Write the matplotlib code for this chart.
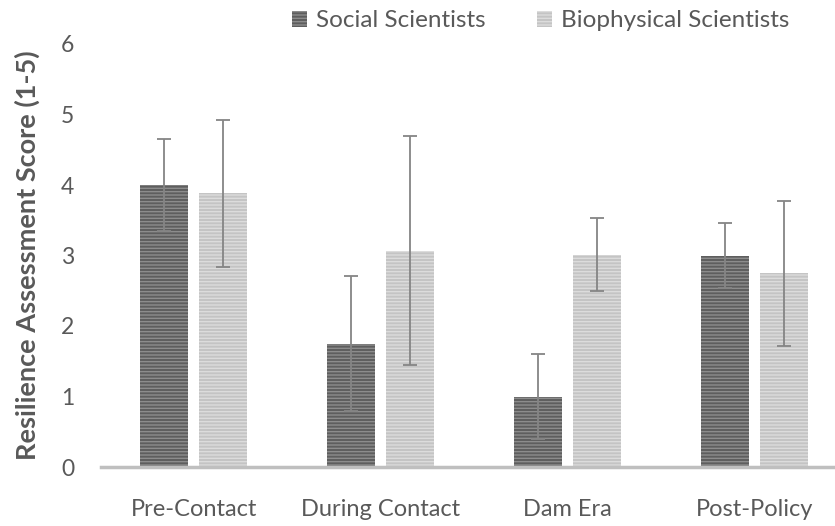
import numpy as np
import matplotlib.pyplot as plt

# data
categories = ["Pre-Contact", "During Contact", "Dam Era", "Post-Policy"]
social = [4.0, 1.75, 1.0, 3.0]
social_err = [0.65, 0.96, 0.60, 0.46]
bio = [3.88, 3.07, 3.01, 2.75]
bio_err = [1.04, 1.62, 0.52, 1.03]

plt.rcParams['font.family'] = ['Lato', 'DejaVu Sans']
plt.rcParams['hatch.linewidth'] = 1.0
text_color = '#595959'

fig = plt.figure(figsize=(8.35, 5.26), dpi=100)
ax = fig.add_axes([100.5 / 835, 59 / 526, 747.5 / 835, 423 / 526])

x = np.arange(len(categories))
off = 0.158
w = 0.257
err_kw = dict(ecolor='#858585', elinewidth=1.3, capsize=4.7, capthick=1.3)

b1 = ax.bar(x - off, social, w, yerr=social_err, color='#5e5e5e',
            edgecolor='#8c8c8c', hatch='-----', linewidth=0,
            error_kw=err_kw, label='Social Scientists')
b2 = ax.bar(x + off, bio, w, yerr=bio_err, color='#c4c4c4',
            edgecolor='#dcdcdc', hatch='-----', linewidth=0,
            error_kw=err_kw, label='Biophysical Scientists')

ax.set_xlim(-0.5, 3.5)
ax.set_ylim(0, 6)
ax.set_yticks(range(7))
ax.set_xticks(x)
ax.set_xticklabels(categories)

for s in ['top', 'right', 'left']:
    ax.spines[s].set_visible(False)
ax.spines['bottom'].set_color('#bfbfbf')
ax.spines['bottom'].set_linewidth(2.5)
ax.tick_params(axis='both', length=0, colors=text_color)
ax.tick_params(axis='x', pad=23, labelsize=17)
ax.tick_params(axis='y', pad=19, labelsize=16.5)

ax.set_ylabel('Resilience Assessment Score (1-5)', fontsize=19.5,
              fontweight='bold', color=text_color, labelpad=15)

leg = fig.legend(handles=[b1, b2], loc='center', bbox_to_anchor=(541 / 835, 1 - 21 / 526),
                 ncol=2, frameon=False, fontsize=17.5, handlelength=0.6, handleheight=0.6,
                 columnspacing=2.1, handletextpad=0.4)
for t in leg.get_texts():
    t.set_color(text_color)

fig.savefig('out.png', dpi=100)
